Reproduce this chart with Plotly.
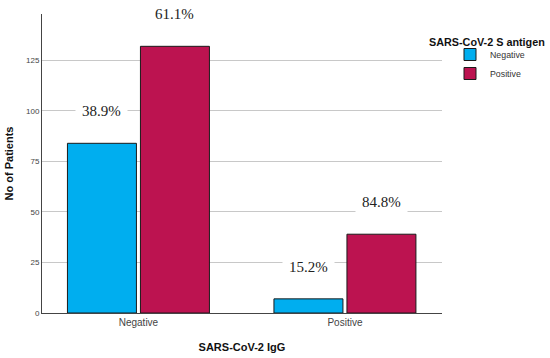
import plotly.graph_objects as go

categories = ["Negative", "Positive"]
series_names = ["Negative", "Positive"]
neg_antigen = [84, 7]
pos_antigen = [132, 39]
y_ticks = [0, 25, 50, 75, 100, 125]

colors = ["#00AEEF", "#BC1350"]
xs = [0, 1]

fig = go.Figure()
for name, vals, col in zip(series_names, [neg_antigen, pos_antigen], colors):
    fig.add_trace(go.Bar(x=xs, y=vals, name=name, marker=dict(color=col, line=dict(color="#1a1a1a", width=1))))

bargap = 0.293
groupgap = 0.055
slot = (1 - bargap) / 2
totals = [a + b for a, b in zip(neg_antigen, pos_antigen)]
for si, vals in enumerate([neg_antigen, pos_antigen]):
    for ci, v in enumerate(vals):
        pct = 100 * v / totals[ci]
        xoff = (si - 0.5) * slot
        fig.add_annotation(x=xs[ci] + xoff, y=v + 16, text=f"{pct:.1f}%", showarrow=False,
                           font=dict(family="Liberation Serif", size=15, color="#222"),
                           bgcolor="white", borderpad=6, xref="x", yref="y")

fig.add_annotation(text="<b>SARS-CoV-2 S antigen</b>", xref="paper", yref="paper", x=0.9625, y=0.906,
                   xanchor="left", yanchor="middle", showarrow=False,
                   font=dict(family="Liberation Sans", size=10.8, color="#111"))

fig.update_layout(
    width=550, height=358,
    margin=dict(l=42, r=108, t=14, b=45, autoexpand=False),
    plot_bgcolor="white", paper_bgcolor="white",
    barmode="group", bargap=bargap, bargroupgap=groupgap,
    showlegend=True,
    legend=dict(x=1.02, y=0.913, xanchor="left", yanchor="top",
                font=dict(family="Liberation Sans", size=8.8, color="#333"),
                itemwidth=30, tracegroupgap=0, bgcolor="rgba(0,0,0,0)"),
    xaxis=dict(range=[-0.467, 1.47], tickvals=xs, ticktext=categories, showgrid=False,
               showline=True, linecolor="#444", linewidth=1, ticks="", automargin=False,
               tickfont=dict(family="Liberation Sans", size=10, color="#444"),
               title=dict(text="<b>SARS-CoV-2 IgG</b>", font=dict(family="Liberation Sans", size=11, color="#111"), standoff=16)),
    yaxis=dict(range=[0, 148], tickvals=y_ticks, showgrid=True, gridcolor="#c8c8c8", gridwidth=1,
               showline=True, linecolor="#444", linewidth=1, ticks="", zeroline=False, automargin=False,
               tickfont=dict(family="Liberation Sans", size=8, color="#444"),
               title=dict(text="<b>No of Patients</b>", font=dict(family="Liberation Sans", size=11, color="#111"), standoff=10)),
)

fig.write_html("out.html", config={"displayModeBar": False},
               post_script="document.body.style.margin='0';")
